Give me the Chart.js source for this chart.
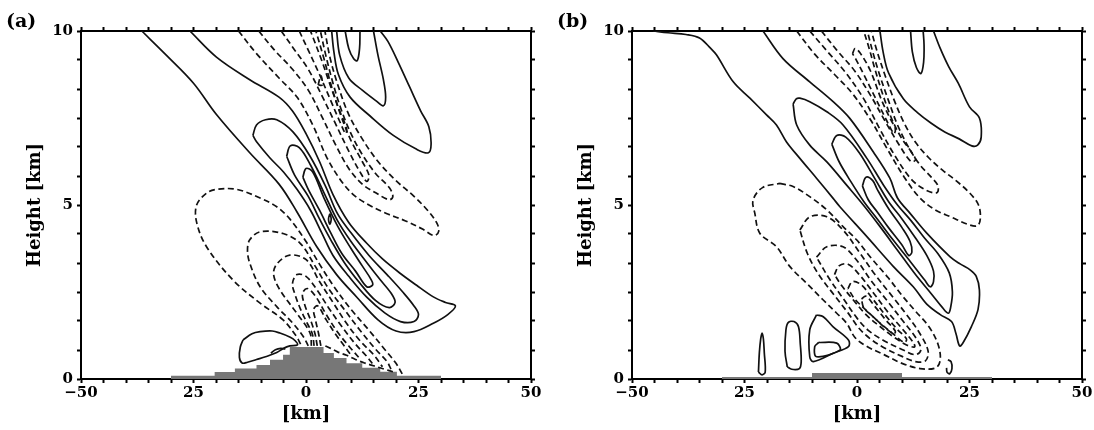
<!DOCTYPE html>
<html>
<head>
<meta charset="utf-8">
<script src="https://cdn.jsdelivr.net/npm/chart.js@4.4.1/dist/chart.umd.min.js"></script>
<style>
  html, body { margin: 0; padding: 0; background: #fff; }
  #wrap { position: relative; width: 1094px; height: 430px; }
  #panelA { position: absolute; left: 0; top: 0; }
  #panelB { position: absolute; left: 551px; top: 0; }
</style>
</head>
<body>
<div id="wrap">
  <canvas id="panelA" width="551" height="430"></canvas>
  <canvas id="panelB" width="543" height="430"></canvas>
</div>
<script>
// axis ticks
const xTicks = [-50,-45,-40,-35,-30,-25,-20,-15,-10,-5,0,5,10,15,20,25,30,35,40,45,50];
const xTickLabels = { '-50': '\u221250', '-25': '25', '0': '0', '25': '25', '50': '50' };
const yTicks = [0,0.833,1.667,2.5,3.333,4.167,5,5.833,6.667,7.5,8.333,9.167,10];
const yTickLabels = ['0', '5', '10'];

// terrain: step edges (km) and height of each step (km)
const terrainAx = [-30,-20.3,-15.8,-11,-8,-5.1,-3.6,3.9,6.2,9,12.5,16.5,20.2,30];
const terrainAh = [0.09,0.2,0.3,0.4,0.55,0.7,0.92,0.75,0.6,0.45,0.32,0.21,0.09];
const terrainBx = [-30,-10,10,30];
const terrainBh = [0.06,0.17,0.06];

// panel (a) positive contours (solid)
const aS1 = [[-36.5,10],[-31,9.3],[-25,8.5],[-19.9,7.6],[-12.5,6.5],[-6,5.6],[-2,4.8],[2.4,3.8],[6.8,3.0],[11.3,2.35],[16,1.7],[20,1.38],[24,1.36],[28.3,1.6],[31.5,1.85],[33.2,2.1],[31,2.2],[28.3,2.36],[24.5,2.7],[20.9,3.04],[17,3.45],[13.5,3.9],[9.5,4.5],[6,5.3],[3,6.25],[0,7.05],[-3,7.7],[-6,8.1],[-12.5,8.6],[-19.9,9.25],[-25.8,10]];
const aS2 = [[-11.8,7.0],[-11,7.3],[-9,7.45],[-6.5,7.45],[-2.9,7.1],[0.9,6.4],[4.3,5.55],[7,4.75],[10,4.2],[14,3.55],[18,3.0],[21.5,2.5],[24,2.1],[25,1.85],[24,1.65],[21,1.65],[17.5,1.9],[13.5,2.35],[9.5,2.95],[6,3.55],[3.5,4.2],[1,4.85],[-2,5.45],[-5,5.95],[-8,6.35],[-10.9,6.8],[-11.8,7.0]];
const aS3 = [[-4.3,6.4],[-3.5,6.7],[-1.5,6.65],[1,6.15],[4,5.35],[7,4.55],[10,3.95],[13.5,3.35],[16.5,2.85],[19,2.45],[19.8,2.2],[18.5,2.05],[15.5,2.25],[12,2.75],[8.5,3.35],[5.5,4.0],[3,4.6],[0.5,5.25],[-2.5,5.85],[-4.3,6.4]];
const aS4 = [[-0.7,5.8],[0,6.05],[1.5,5.95],[4,5.2],[7,4.4],[10,3.75],[12.5,3.25],[14.5,2.85],[14.8,2.7],[13.5,2.65],[11,3.1],[8,3.6],[5.5,4.2],[3,4.85],[0.5,5.45],[-0.7,5.8]];
const aS5 = [[5.3,4.75],[5.6,4.6],[5.3,4.45],[5.0,4.6],[5.3,4.75]];
const aU1 = [[5.7,10],[6.2,9.4],[7.2,8.75],[9.8,8.1],[14.3,7.55],[19.4,7.0],[24.6,6.6],[27.2,6.5],[27.8,6.75],[27.3,7.25],[25.5,7.7],[23,8.4],[20.5,9.1],[18.2,9.7],[16.5,10]];
const aU2 = [[6.8,10],[7.5,9.3],[9.5,8.65],[12.5,8.3],[15.5,8.0],[17.2,7.85],[17.7,8.1],[17.2,8.6],[16,9.3],[15,10]];
const aU3 = [[8.7,10],[9.5,9.5],[10.6,9.2],[11.4,9.15],[11.9,9.5],[12,10]];
const aLoop = [[-14,1.12],[-12,1.3],[-10.2,1.36],[-7.5,1.38],[-5.8,1.32],[-3.5,1.2],[-2.4,1.1],[-1.9,0.98],[-3.6,0.95],[-5,0.88],[-6.5,0.76],[-9,0.64],[-11,0.56],[-13,0.48],[-14.2,0.46],[-14.8,0.62],[-14.6,0.92],[-14,1.12]];
const aMark = [[-7.8,0.74],[-6.8,0.84],[-5.6,0.88],[-4.6,0.86]];

// panel (a) negative contours (dashed)
const aD1 = [[-15,10],[-11,9.35],[-6,8.65],[-2,8.1],[1.5,7.3],[4.5,6.4],[7.5,5.75],[10.5,5.3],[14,5.0],[18,4.75],[22,4.55],[26,4.3],[28.5,4.12],[29.5,4.25],[29,4.5],[27,4.85],[24,5.25],[20,5.7],[16,6.25],[12.5,6.9],[9.5,7.6],[7.2,8.4],[5.4,9.2],[4.2,10]];
const aD2 = [[-10.5,10],[-7,9.45],[-3,8.9],[0.5,8.3],[3.5,7.55],[6.5,6.75],[9.5,6.05],[12.5,5.6],[15.5,5.35],[18.5,5.15],[19.3,5.25],[18.5,5.5],[15.5,5.9],[12.5,6.45],[10,7.05],[7.8,7.75],[6,8.5],[4.4,9.3],[3.2,10]];
const aD3 = [[-5.5,10],[-2.5,9.45],[0.5,8.9],[3.5,8.15],[6.5,7.35],[9.5,6.55],[12,5.95],[13.5,5.68],[14,5.85],[12.5,6.25],[10,6.85],[7.8,7.55],[5.8,8.35],[4,9.2],[2.2,10]];
const aD4 = [[-1.5,10],[0.5,9.45],[3,8.75],[5.5,8.0],[7.5,7.4],[8.8,7.05],[9,7.2],[7.5,7.7],[5.5,8.4],[3.5,9.15],[1,10]];
const aD5 = [[2.7,8.45],[3.3,8.72],[3.6,8.45],[2.7,8.45]];
const aL1 = [[-1.2,1.0],[-2.1,1.22],[-5.1,1.7],[-10.2,2.18],[-16.2,2.84],[-22.1,3.8],[-24.3,4.5],[-24.3,5.0],[-22,5.35],[-19.9,5.45],[-15.4,5.45],[-10.2,5.2],[-6.5,4.95],[-3.6,4.6],[0,3.95],[3,3.3],[6.5,2.6],[10,2.0],[14,1.4],[17.5,0.85],[20,0.45],[21.5,0.12]];
const aL2 = [[0.5,0.95],[-0.5,1.2],[-2.9,1.6],[-6.5,2.08],[-10.2,2.65],[-12.5,3.33],[-13,3.7],[-12.5,4.0],[-10.2,4.23],[-5.1,4.18],[-1.3,3.9],[2,3.25],[5,2.6],[8.5,2.0],[12,1.4],[15.5,0.85],[18,0.5],[19,0.25]];
const aL3 = [[1.2,0.95],[0.9,1.32],[-2.1,1.9],[-5.8,2.56],[-7.2,3.0],[-6.5,3.3],[-3.6,3.56],[0.1,3.42],[3,2.8],[6,2.2],[9,1.6],[12,1.1],[15,0.7],[17,0.35]];
const aL4 = [[1.8,0.95],[1.4,1.3],[0.2,1.62],[-1.2,2.0],[-2.5,2.45],[-3.0,2.75],[-2,3.0],[0,2.95],[2.5,2.55],[5,2.05],[8,1.5],[11,1.0],[13.5,0.65],[15,0.4]];
const aL5 = [[2.5,0.95],[2.0,1.3],[1.0,1.7],[-0.2,2.1],[-0.8,2.45],[0.3,2.6],[2,2.4],[4.5,1.85],[7,1.35],[9.5,0.95],[12.2,0.55]];
const aL6 = [[3.3,0.95],[2.8,1.3],[2.1,1.7],[1.7,2.0],[2.6,2.1],[4.5,1.7],[6.5,1.3],[8.5,0.95],[10.2,0.65]];
const aL7 = [[4.3,0.95],[5.5,0.88],[7,0.78],[9,0.68],[11,0.56],[13,0.46],[15,0.38],[17.5,0.28],[19.5,0.2]];

// panel (b) positive contours (solid)
const bS1 = [[-45.3,10],[-42,9.95],[-38,9.9],[-35,9.8],[-32.5,9.5],[-31.2,9.31],[-27.5,8.54],[-23.8,8.07],[-20.1,7.59],[-17.9,7.3],[-15.7,6.82],[-12.7,6.34],[-9,5.77],[-5.3,5.19],[-3.8,4.95],[2.2,4.09],[8.1,3.23],[12.5,2.65],[15.5,2.15],[18.5,1.85],[21,1.65],[22,1.3],[22.8,0.95],[23.6,1.05],[25.4,1.5],[26.9,2.0],[27.2,2.56],[26.5,2.95],[25.2,3.13],[23,3.3],[20.7,3.51],[15.5,4.19],[11.8,4.76],[9,5.2],[7.3,5.77],[3.6,6.53],[-1.6,7.49],[-5.3,7.97],[-10.5,8.54],[-16.4,9.2],[-20.9,10]];
const bS2 = [[-14.2,7.9],[-13.5,8.05],[-12.7,8.07],[-10.5,7.97],[-6.7,7.68],[-3.1,7.3],[2.2,6.34],[5.9,5.57],[9,5.0],[12,4.55],[15,4.05],[18,3.6],[20.5,3.05],[21.2,2.5],[20.8,2.05],[20.3,1.89],[19,2.05],[16.5,2.45],[13,3.0],[9,3.7],[5,4.4],[1.4,5.0],[-2.3,5.57],[-6.7,6.24],[-10.5,6.72],[-13.4,7.3],[-14.2,7.9]];
const bS3 = [[-5.6,6.75],[-4.5,7.0],[-2.5,6.95],[0.5,6.5],[4,5.75],[7,5.1],[10,4.6],[13,4.05],[15.5,3.55],[17,3.1],[17,2.8],[16.3,2.65],[15,2.85],[12,3.35],[8,4.0],[4.5,4.6],[1.5,5.1],[-1.5,5.7],[-4,6.25],[-5.6,6.75]];
const bS4 = [[1.2,5.55],[2,5.8],[3.5,5.7],[4.5,5.45],[7,4.9],[10,4.35],[11.8,3.95],[12.2,3.65],[11.5,3.55],[10,3.85],[7,4.35],[4.5,4.8],[2.5,5.15],[1.2,5.55]];
const bU1 = [[5.1,10],[5.8,9.4],[7,8.8],[10.3,8.05],[13.5,7.65],[16.5,7.35],[19.5,7.1],[22.7,6.9],[25.5,6.7],[26.8,6.72],[27.6,6.95],[27.2,7.5],[25,7.82],[22.5,8.5],[20.4,8.97],[18.5,9.5],[17,10]];
const bU2 = [[11.9,10],[12.3,9.4],[13.2,8.95],[14.2,8.78],[14.8,9.1],[14.9,9.6],[14.7,10]];
const bG1 = [[-21.9,0.2],[-21.7,0.75],[-21.4,1.15],[-21.1,1.32],[-20.8,1.15],[-20.6,0.75],[-20.4,0.2],[-21.1,0.12],[-21.9,0.2]];
const bG2 = [[-15.5,0.35],[-16,0.8],[-15.8,1.4],[-15.3,1.62],[-14,1.65],[-13,1.5],[-12.6,1.0],[-12.4,0.5],[-12.8,0.3],[-14.5,0.28],[-15.5,0.35]];
const bG3 = [[-9,1.84],[-10.5,1.41],[-10.5,0.64],[-9.7,0.5],[-5.3,0.74],[-1.9,0.93],[-1.9,1.12],[-5.3,1.5],[-7.5,1.79],[-9,1.84]];
const bG4 = [[-8.5,1.05],[-9.4,0.93],[-9,0.64],[-3.8,0.83],[-4.5,1.03],[-8.5,1.05]];
const bG5 = [[20.2,0.55],[20.9,0.5],[21.1,0.3],[20.6,0.15],[20.0,0.2],[19.9,0.32]];

// panel (b) negative contours (dashed)
const bD1 = [[-13.4,10],[-9.5,9.35],[-5,8.75],[-1,8.2],[3,7.45],[7,6.55],[10.5,5.8],[14,5.2],[17.5,4.85],[21,4.65],[24.5,4.45],[26.7,4.4],[27.4,4.6],[27,5.0],[25,5.35],[22,5.7],[19,6.0],[16,6.35],[13,6.8],[10.5,7.35],[8.3,8.0],[6.3,8.7],[4.5,9.4],[3.2,10]];
const bD2 = [[-10.5,10],[-6.5,9.4],[-2.5,8.8],[1.5,8.05],[5,7.2],[8.5,6.4],[12,5.75],[15,5.45],[17.7,5.35],[18,5.55],[16.5,5.8],[14,6.15],[11.5,6.65],[9,7.3],[7,8.0],[5,8.75],[3.5,9.4],[2.3,10]];
const bD3 = [[-7.9,10],[-4.5,9.45],[-0.5,8.85],[3,8.15],[6.5,7.35],[9.5,6.7],[12,6.25],[13,6.3],[12.2,6.5],[10,6.9],[7.8,7.45],[5.8,8.15],[4,8.9],[2.7,9.5],[1.5,10]];
const bD4 = [[-1.0,9.35],[-0.4,9.5],[0.8,9.35],[3,8.85],[5.5,8.0],[7.5,7.45],[8.5,7.2],[8.2,7.05],[6.5,7.45],[4,8.1],[1.5,8.75],[-0.3,9.2],[-1.0,9.35]];
const bL1 = [[-17.1,5.62],[-14.2,5.53],[-10.5,5.24],[-6.7,4.86],[-3.1,4.38],[-0.1,4.0],[3,3.5],[7,2.9],[10,2.4],[13,1.95],[16,1.5],[18,1.0],[18.5,0.55],[17.5,0.32],[14,0.3],[10,0.45],[6,0.7],[2,0.95],[-0.5,1.2],[-2.3,1.6],[-4.5,1.89],[-7.5,2.27],[-11.2,2.75],[-14.9,3.23],[-17.9,3.8],[-21.6,4.19],[-22.7,4.76],[-23.1,5.14],[-21,5.5],[-17.1,5.62]];
const bL2 = [[-12.7,4.28],[-10.5,4.66],[-6.7,4.66],[-3.1,4.28],[0.7,3.61],[4,3.0],[8,2.35],[11,1.85],[14,1.3],[15.8,0.8],[15.2,0.52],[13,0.5],[10,0.65],[6,0.9],[3,1.15],[0.5,1.45],[-2,1.9],[-5,2.4],[-8.5,3.0],[-11,3.6],[-12.7,4.28]];
const bL3 = [[-9,3.5],[-6.7,3.8],[-3.1,3.8],[-0.1,3.42],[3,2.85],[7,2.2],[10,1.7],[13,1.2],[14.2,0.85],[13,0.7],[10,0.85],[6,1.1],[2.5,1.4],[0,1.75],[-3,2.3],[-6,2.85],[-9,3.5]];
const bL4 = [[-5,3.0],[-4,3.25],[-2,3.3],[0.5,3.0],[3.5,2.5],[7,1.9],[10,1.45],[12.5,1.05],[12.8,0.92],[11,0.98],[8,1.22],[5,1.52],[2,1.85],[-1,2.3],[-3.5,2.7],[-5,3.0]];
const bL5 = [[-2,2.6],[-1,2.8],[1,2.7],[3.5,2.3],[6.5,1.8],[9,1.42],[11,1.15],[10.5,1.05],[8,1.3],[5,1.62],[2,1.98],[-0.5,2.3],[-2,2.6]];
const bL6 = [[1,2.3],[2,2.38],[4,2.08],[6.5,1.68],[8.5,1.38],[8.2,1.3],[6,1.5],[3.5,1.8],[1.5,2.05],[1,2.3]];

const FONT = 'DejaVu Serif';

function contour(pts, dashed) {
  return {
    data: pts.map(p => ({ x: p[0], y: p[1] })),
    borderColor: '#111',
    borderWidth: 1.7,
    borderDash: dashed ? [6, 3.5] : [],
    pointRadius: 0,
    tension: 0.35,
    fill: false,
    order: 0
  };
}

// blocky mountain: each step is a flat segment between two edges
function terrain(edges, heights) {
  const pts = [];
  heights.forEach((h, i) => {
    pts.push({ x: edges[i], y: h });
    pts.push({ x: edges[i + 1], y: h });
  });
  return {
    data: pts,
    borderWidth: 0,
    borderColor: 'rgba(0,0,0,0)',
    backgroundColor: '#777',
    pointRadius: 0,
    tension: 0,
    fill: 'origin',
    order: 1
  };
}

const panelLabel = {
  id: 'panelLabel',
  afterDraw(chart, args, opts) {
    const ctx = chart.ctx;
    ctx.save();
    ctx.font = 'bold 19px "' + FONT + '"';
    ctx.fillStyle = '#000';
    ctx.textBaseline = 'middle';
    ctx.textAlign = 'left';
    ctx.fillText(opts.text, 6, 22);
    ctx.restore();
  }
};

function axisGrid() {
  return { drawOnChartArea: false, drawTicks: true, tickLength: 4, tickWidth: 2, color: '#000', tickColor: '#000' };
}

function makePanel(id, label, solids, dasheds, tx, th, rightWidth) {
  const datasets = [];
  solids.forEach(c => datasets.push(contour(c, false)));
  dasheds.forEach(c => datasets.push(contour(c, true)));
  datasets.push(terrain(tx, th));

  const tickFont = { family: FONT, weight: 'bold', size: 15 };
  const titleFont = { family: FONT, weight: 'bold', size: 18 };

  return new Chart(document.getElementById(id), {
    type: 'line',
    data: { datasets: datasets },
    options: {
      responsive: false,
      animation: false,
      layout: { padding: 0 },
      plugins: {
        legend: { display: false },
        tooltip: { enabled: false },
        panelLabel: { text: label }
      },
      scales: {
        x: {
          type: 'linear', position: 'bottom', min: -50, max: 50,
          afterBuildTicks: s => { s.ticks = xTicks.map(v => ({ value: v })); },
          afterFit: s => { s.height = 51; },
          ticks: {
            autoSkip: false, maxRotation: 0, padding: 1, color: '#000', font: tickFont,
            callback: v => (xTickLabels[String(v)] !== undefined ? xTickLabels[String(v)] : '')
          },
          grid: axisGrid(),
          border: { display: true, color: '#000', width: 2 },
          title: { display: true, text: '[km]', color: '#000', font: titleFont, padding: { top: 0, bottom: 5 } }
        },
        x2: {
          type: 'linear', position: 'top', min: -50, max: 50,
          afterBuildTicks: s => { s.ticks = xTicks.map(v => ({ value: v })); },
          afterFit: s => { s.height = 31; },
          ticks: { display: false },
          grid: axisGrid(),
          border: { display: true, color: '#000', width: 2 }
        },
        y: {
          type: 'linear', position: 'left', min: 0, max: 10,
          afterBuildTicks: s => { s.ticks = yTicks.map(v => ({ value: v })); },
          afterFit: s => { s.width = 81; },
          ticks: {
            autoSkip: false, padding: 4, color: '#000', font: tickFont,
            callback: v => {
              const r = Math.round(v);
              return (Math.abs(v - r) < 1e-6 && yTickLabels.includes(String(r))) ? String(r) : '';
            }
          },
          grid: axisGrid(),
          border: { display: true, color: '#000', width: 2 },
          title: { display: true, text: 'Height [km]', color: '#000', font: titleFont, padding: { top: 25, bottom: 0 } }
        },
        y2: {
          type: 'linear', position: 'right', min: 0, max: 10,
          afterBuildTicks: s => { s.ticks = yTicks.map(v => ({ value: v })); },
          afterFit: s => { s.width = rightWidth; },
          ticks: { display: false },
          grid: axisGrid(),
          border: { display: true, color: '#000', width: 2 }
        }
      }
    },
    plugins: [panelLabel]
  });
}

makePanel('panelA', '(a)',
  [aS1, aS2, aS3, aS4, aS5, aU1, aU2, aU3, aLoop, aMark],
  [aD1, aD2, aD3, aD4, aD5, aL1, aL2, aL3, aL4, aL5, aL6, aL7],
  terrainAx, terrainAh, 20);

makePanel('panelB', '(b)',
  [bS1, bS2, bS3, bS4, bU1, bU2, bG1, bG2, bG3, bG4, bG5],
  [bD1, bD2, bD3, bD4, bL1, bL2, bL3, bL4, bL5, bL6],
  terrainBx, terrainBh, 12);
</script>
</body>
</html>
